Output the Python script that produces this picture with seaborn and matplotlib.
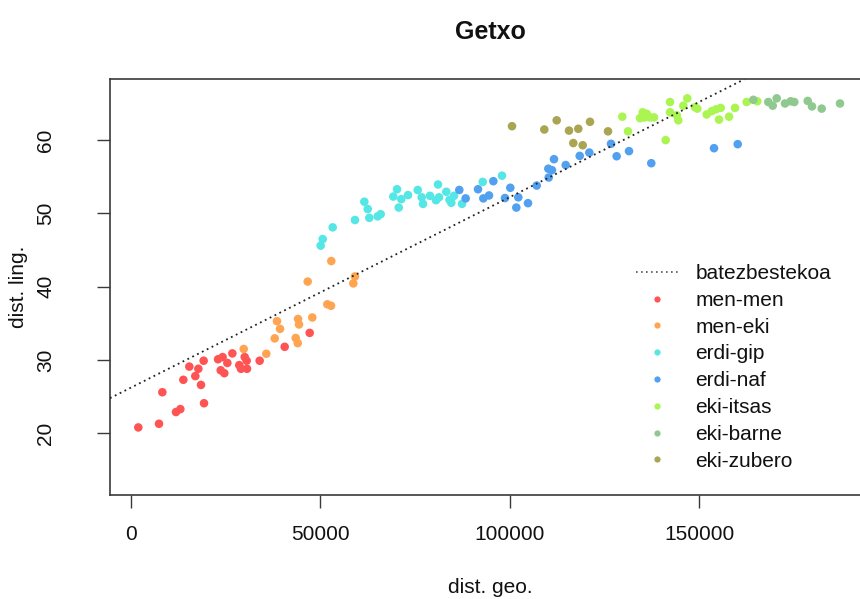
import matplotlib
matplotlib.use("Agg")
import matplotlib.pyplot as plt
from matplotlib.lines import Line2D
import pandas as pd
import seaborn as sns

# Geographic vs. linguistic distance from Getxo, grouped by dialect area
men_men_x = [2060, 7520, 8400, 12000, 13150, 13940, 15520, 17100, 17900, 18600,
             19300, 19400, 23100, 23800, 24300, 24750, 25550, 26870, 28700, 29150,
             30130, 30650, 30740, 34080, 40680, 47280]
men_men_y = [20.8, 21.3, 25.6, 22.9, 23.3, 27.3, 29.1, 27.8, 28.8, 26.6,
             29.9, 24.1, 30.1, 28.6, 30.4, 28.2, 29.6, 30.9, 29.3, 28.8,
             30.4, 29.9, 28.8, 29.9, 31.8, 33.7]

men_eki_x = [29870, 35830, 38050, 38650, 39450, 43590, 44120, 44200, 44460, 46750,
             47970, 51930, 52900, 52980, 58790, 59230]
men_eki_y = [31.5, 30.85, 32.95, 35.3, 34.25, 33.0, 32.3, 35.6, 34.85, 40.7,
             35.8, 37.6, 37.4, 43.5, 40.45, 41.4]

erdi_gip_x = [50180, 50710, 53350, 59230, 61690, 62590, 63010, 65220, 66010, 69340,
              70320, 70770, 71450, 73220, 75780, 76830, 77180, 79020, 80610, 81130,
              81400, 83320, 84170, 84640, 85360, 87470, 92930, 98020]
erdi_gip_y = [45.6, 46.5, 48.1, 49.1, 51.6, 50.6, 49.4, 49.6, 49.9, 52.3,
              53.3, 50.8, 51.95, 52.5, 53.2, 52.2, 51.3, 52.4, 51.8, 53.95,
              52.2, 52.95, 51.85, 51.45, 52.4, 51.3, 54.3, 55.15]

erdi_naf_x = [86750, 88430, 91690, 93090, 94590, 95730, 98810, 100210, 101800, 102320,
              104880, 107180, 110240, 110340, 111210, 111740, 114830, 118520, 121060, 126780,
              128270, 131530, 137410, 153960, 160210]
erdi_naf_y = [53.2, 52.05, 53.3, 52.05, 52.45, 54.4, 52.1, 53.5, 50.8, 52.2,
              51.4, 53.8, 56.1, 54.9, 55.9, 57.4, 56.6, 57.85, 58.3, 59.5,
              57.8, 58.5, 56.85, 58.9, 59.45]

eki_itsas_x = [129760, 131270, 134430, 135140, 135570, 136200, 137070, 138130, 141210, 142350,
               142350, 144120, 144540, 145860, 146910, 148940, 149550, 152030, 153350, 154490,
               155280, 155730, 157920, 159500, 162580, 165380]
eki_itsas_y = [63.2, 61.2, 63.0, 63.8, 63.1, 63.6, 63.1, 63.1, 60.0, 65.2,
               63.8, 63.4, 62.7, 64.7, 65.7, 64.5, 64.3, 63.5, 63.95, 64.2,
               62.8, 64.4, 63.2, 64.4, 65.2, 65.3]

eki_barne_x = [164330, 168290, 169450, 170500, 172690, 174200, 175140, 178680, 179810, 182370,
               187200]
eki_barne_y = [65.5, 65.2, 64.7, 65.7, 65.0, 65.3, 65.2, 65.35, 64.6, 64.3,
               65.0]

eki_zubero_x = [100660, 109180, 112450, 115700, 116830, 118150, 119310, 121240, 125990]
eki_zubero_y = [61.9, 61.45, 62.7, 61.3, 59.6, 61.55, 59.3, 62.5, 61.2]

groups = ["men-men", "men-eki", "erdi-gip", "erdi-naf", "eki-itsas", "eki-barne", "eki-zubero"]
colors = ["#FF5454", "#FFA552", "#55E6E6", "#52A0F0", "#ABF552", "#8FC98F", "#AAA553"]

# Mean trend line
trend_label = "batezbestekoa"
trend_intercept = 26.2
trend_slope = 0.00026

xticks = [0, 50000, 100000, 150000]
yticks = [20, 30, 40, 50, 60]

series = {
    "men-men": (men_men_x, men_men_y),
    "men-eki": (men_eki_x, men_eki_y),
    "erdi-gip": (erdi_gip_x, erdi_gip_y),
    "erdi-naf": (erdi_naf_x, erdi_naf_y),
    "eki-itsas": (eki_itsas_x, eki_itsas_y),
    "eki-barne": (eki_barne_x, eki_barne_y),
    "eki-zubero": (eki_zubero_x, eki_zubero_y),
}
df = pd.concat(
    [pd.DataFrame({"geo": xs, "ling": ys, "taldea": name}) for name, (xs, ys) in series.items()],
    ignore_index=True,
)

sns.set_theme(style="white")
plt.rcParams["font.family"] = ["Liberation Sans", "DejaVu Sans"]
FS = 15

fig = plt.figure(figsize=(8.6, 5.99), dpi=100)
W, H = 860, 599
left, right, top, bottom = 110, 871, 79.3, 495
ax = fig.add_axes([left / W, 1 - bottom / H, (right - left) / W, (bottom - top) / H])

palette = dict(zip(groups, colors))
sns.scatterplot(data=df, x="geo", y="ling", hue="taldea", hue_order=groups,
                palette=palette, s=38, linewidth=0, ax=ax, legend=False, zorder=3)

ax.axline((0, trend_intercept), slope=trend_slope, color="#222222", lw=1.3,
          linestyle=(0, (1, 2.0)), zorder=4)

ax.set_xlim(-5410, 195380)
ax.set_ylim(11.58, 68.3)
ax.set_xticks(xticks)
ax.set_xticklabels([str(t) for t in xticks])
ax.set_yticks(yticks)
ax.set_yticklabels([str(t) for t in yticks])

for sp in ax.spines.values():
    sp.set_color("#3a3a3a")
    sp.set_linewidth(1.2)

ax.tick_params(axis="both", direction="out", length=9.5, width=1.0, color="#3a3a3a",
               labelsize=FS, labelcolor="#111111", bottom=True, left=True)
ax.tick_params(axis="x", pad=12)
ax.tick_params(axis="y", pad=30)
for lab in ax.get_yticklabels():
    lab.set_rotation(90)
    lab.set_va("center")

ax.set_xlabel("dist. geo.", fontsize=FS, color="#111111")
ax.set_ylabel("dist. ling.", fontsize=FS, color="#111111")
ax.xaxis.set_label_coords(0.5, -0.200)
ax.yaxis.set_label_coords(-0.108, 0.5)

ax.set_title("Getxo", fontsize=18, fontweight="bold", color="#111111", y=1.097, pad=0)

handles = [Line2D([0], [0], color="#555555", lw=1.2, linestyle=(0, (1, 2)))]
handles += [Line2D([0], [0], marker="o", linestyle="none", markersize=4.5,
                   markerfacecolor=c, markeredgewidth=0) for c in colors]
labels = [trend_label] + groups
leg = fig.legend(handles, labels, loc="upper left", bbox_to_anchor=(636 / W, 1 - 264 / H),
                 frameon=False, fontsize=FS, handlelength=2.0, handletextpad=0.85,
                 labelspacing=0.375, borderpad=0, borderaxespad=0)
for t in leg.get_texts():
    t.set_color("#111111")

fig.savefig("out.png", dpi=100)
